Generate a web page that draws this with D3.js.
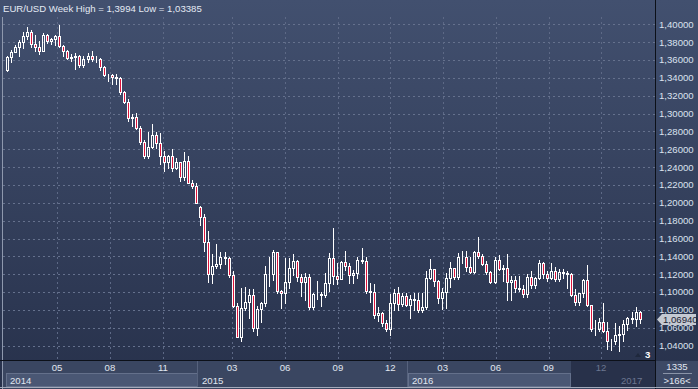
<!DOCTYPE html>
<html>
<head>
<meta charset="utf-8">
<script src="https://cdn.jsdelivr.net/npm/d3@7"></script>
<style>
html, body { margin: 0; padding: 0; background: #2c3650; overflow: hidden; }
svg { display: block; font-family: "Liberation Sans", Arial, sans-serif; }
</style>
</head>
<body>
<div id="chart"></div>
<script>
//Data (weekly candles, week start dates)
var weeks = [
 "2014-02-03","2014-02-10","2014-02-17","2014-02-24","2014-03-03","2014-03-10","2014-03-17","2014-03-24","2014-03-31",
 "2014-04-07","2014-04-14","2014-04-21","2014-04-28","2014-05-05","2014-05-12","2014-05-19","2014-05-26","2014-06-02",
 "2014-06-09","2014-06-16","2014-06-23","2014-06-30","2014-07-07","2014-07-14","2014-07-21","2014-07-28","2014-08-04",
 "2014-08-11","2014-08-18","2014-08-25","2014-09-01","2014-09-08","2014-09-15","2014-09-22","2014-09-29","2014-10-06",
 "2014-10-13","2014-10-20","2014-10-27","2014-11-03","2014-11-10","2014-11-17","2014-11-24","2014-12-01","2014-12-08",
 "2014-12-15","2014-12-22","2014-12-29",
 "2015-01-05","2015-01-12","2015-01-19","2015-01-26","2015-02-02","2015-02-09","2015-02-16","2015-02-23","2015-03-02",
 "2015-03-09","2015-03-16","2015-03-23","2015-03-30","2015-04-06","2015-04-13","2015-04-20","2015-04-27","2015-05-04",
 "2015-05-11","2015-05-18","2015-05-25","2015-06-01","2015-06-08","2015-06-15","2015-06-22","2015-06-29","2015-07-06",
 "2015-07-13","2015-07-20","2015-07-27","2015-08-03","2015-08-10","2015-08-17","2015-08-24","2015-08-31","2015-09-07",
 "2015-09-14","2015-09-21","2015-09-28","2015-10-05","2015-10-12","2015-10-19","2015-10-26","2015-11-02","2015-11-09",
 "2015-11-16","2015-11-23","2015-11-30","2015-12-07","2015-12-14","2015-12-21","2015-12-28",
 "2016-01-04","2016-01-11","2016-01-18","2016-01-25","2016-02-01","2016-02-08","2016-02-15","2016-02-22","2016-02-29",
 "2016-03-07","2016-03-14","2016-03-21","2016-03-28","2016-04-04","2016-04-11","2016-04-18","2016-04-25","2016-05-02",
 "2016-05-09","2016-05-16","2016-05-23","2016-05-30","2016-06-06","2016-06-13","2016-06-20","2016-06-27","2016-07-04",
 "2016-07-11","2016-07-18","2016-07-25","2016-08-01","2016-08-08","2016-08-15","2016-08-22","2016-08-29","2016-09-05",
 "2016-09-12","2016-09-19","2016-09-26","2016-10-03","2016-10-10","2016-10-17","2016-10-24","2016-10-31","2016-11-07",
 "2016-11-14","2016-11-21","2016-11-28","2016-12-05","2016-12-12","2016-12-19","2016-12-26",
 "2017-01-02","2017-01-09","2017-01-16","2017-01-23","2017-01-30","2017-02-06"
];
var open = [
 1.3486,1.3635,1.3692,1.3741,1.3803,1.3873,1.3914,1.3778,1.3751,1.3705,1.3885,1.3812,1.3830,1.3873,1.3757,1.3696,
 1.3628,1.3634,1.3642,1.3541,1.3608,1.3646,1.3606,1.3606,1.3523,1.3430,1.3428,1.3411,1.3400,1.3240,1.3131,1.2951,
 1.2966,1.2834,1.2685,1.2525,1.2628,1.2760,1.2671,1.2527,1.2455,1.2526,1.2390,1.2454,1.2289,1.2465,1.2225,1.2192,
 1.1950,1.1843,1.1566,1.1204,1.1291,1.1315,1.1389,1.1380,1.1196,1.0843,1.0496,1.0822,1.0890,1.0970,1.0600,1.0810,
 1.0875,1.1200,1.1199,1.1447,1.1015,1.0986,1.1112,1.1265,1.1350,1.1165,1.1108,1.1164,1.0830,1.0980,1.0982,1.0970,
 1.1105,1.1385,1.1183,1.1150,1.1338,1.1295,1.1195,1.1210,1.1357,1.1350,1.1016,1.1005,1.0740,1.0770,1.0650,1.0590,
 1.0880,1.0990,1.0870,1.0960,
 1.0860,1.0920,1.0915,1.0795,1.0830,1.1155,1.1255,1.1130,1.0935,1.1000,1.1155,1.1270,1.1170,1.1390,1.1395,1.1285,
 1.1225,1.1450,1.1405,1.1310,1.1225,1.1115,1.1365,1.1255,1.1275,1.1115,1.1135,1.1050,1.1040,1.0975,1.1175,1.1085,
 1.1160,1.1325,1.1200,1.1155,1.1235,1.1150,1.1225,1.1215,1.1200,1.0970,1.0885,1.0985,1.1140,1.0855,1.0590,1.0590,
 1.0665,1.0560,1.0450,1.0455,
 1.0515,1.0530,1.0645,1.0705,1.0695,1.0780
];
var high = [
 1.3640,1.3716,1.3773,1.3825,1.3915,1.3967,1.3937,1.3877,1.3810,1.3905,1.3892,1.3851,1.3883,1.3993,1.3773,1.3709,
 1.3670,1.3677,1.3651,1.3646,1.3676,1.3700,1.3649,1.3619,1.3530,1.3445,1.3444,1.3444,1.3412,1.3250,1.3162,1.2994,
 1.3010,1.2860,1.2700,1.2790,1.2887,1.2793,1.2780,1.2576,1.2535,1.2600,1.2500,1.2457,1.2570,1.2529,1.2260,1.2223,
 1.1970,1.1870,1.1680,1.1423,1.1534,1.1450,1.1449,1.1390,1.1240,1.0880,1.1043,1.1052,1.1032,1.1040,1.0850,1.0890,
 1.1290,1.1390,1.1467,1.1450,1.1020,1.1380,1.1380,1.1430,1.1360,1.1200,1.1215,1.1200,1.0990,1.1128,1.1000,1.1215,
 1.1440,1.1714,1.1330,1.1350,1.1460,1.1330,1.1245,1.1390,1.1495,1.1390,1.1100,1.1095,1.0830,1.0775,1.0690,1.0980,
 1.1040,1.1060,1.0990,1.0990,
 1.0970,1.0990,1.0990,1.0985,1.1240,1.1376,1.1260,1.1140,1.1050,1.1215,1.1340,1.1275,1.1440,1.1465,1.1465,1.1395,
 1.1460,1.1616,1.1430,1.1350,1.1240,1.1395,1.1415,1.1300,1.1427,1.1185,1.1185,1.1185,1.1080,1.1200,1.1235,1.1170,
 1.1365,1.1335,1.1240,1.1325,1.1280,1.1255,1.1260,1.1240,1.1210,1.1040,1.0990,1.1145,1.1300,1.0860,1.0690,1.0710,
 1.0875,1.0670,1.0480,1.0655,
 1.0620,1.0685,1.0720,1.0775,1.0830,1.0790
];
var low = [
 1.3477,1.3580,1.3686,1.3643,1.3733,1.3830,1.3750,1.3705,1.3672,1.3700,1.3790,1.3780,1.3772,1.3750,1.3648,1.3614,
 1.3586,1.3503,1.3523,1.3525,1.3575,1.3593,1.3573,1.3490,1.3420,1.3366,1.3333,1.3329,1.3221,1.3117,1.2920,1.2860,
 1.2830,1.2660,1.2500,1.2500,1.2613,1.2610,1.2440,1.2358,1.2395,1.2358,1.2380,1.2247,1.2260,1.2220,1.2164,1.2000,
 1.1754,1.1460,1.1114,1.1098,1.1270,1.1270,1.1315,1.1174,1.0838,1.0494,1.0458,1.0800,1.0712,1.0570,1.0520,1.0660,
 1.0850,1.1065,1.1135,1.0990,1.0820,1.0880,1.1050,1.1190,1.1130,1.0955,1.0915,1.0810,1.0808,1.0925,1.0850,1.0950,
 1.1017,1.1090,1.1087,1.1145,1.1250,1.1105,1.1100,1.1160,1.1330,1.0990,1.0895,1.0710,1.0675,1.0620,1.0560,1.0524,
 1.0800,1.0800,1.0850,1.0850,
 1.0710,1.0805,1.0775,1.0780,1.0810,1.1150,1.1070,1.0880,1.0810,1.0825,1.1060,1.1145,1.1145,1.1330,1.1235,1.1215,
 1.1215,1.1385,1.1305,1.1200,1.1100,1.1100,1.1250,1.1130,1.0912,1.0910,1.1000,1.1015,1.0950,1.0950,1.1045,1.1045,
 1.1150,1.1160,1.1120,1.1150,1.1120,1.1125,1.1160,1.1045,1.0960,1.0860,1.0860,1.0940,1.0850,1.0570,1.0520,1.0560,
 1.0550,1.0365,1.0350,1.0420,
 1.0340,1.0450,1.0580,1.0655,1.0620,1.0650
];
var close = [
 1.3635,1.3692,1.3741,1.3803,1.3873,1.3914,1.3778,1.3751,1.3705,1.3885,1.3812,1.3830,1.3873,1.3757,1.3696,1.3628,
 1.3634,1.3642,1.3541,1.3608,1.3646,1.3606,1.3606,1.3523,1.3430,1.3428,1.3411,1.3400,1.3240,1.3131,1.2951,1.2966,
 1.2834,1.2685,1.2525,1.2628,1.2760,1.2671,1.2527,1.2455,1.2526,1.2390,1.2454,1.2289,1.2465,1.2225,1.2192,1.2003,
 1.1843,1.1566,1.1204,1.1291,1.1315,1.1389,1.1380,1.1196,1.0843,1.0496,1.0822,1.0890,1.0970,1.0600,1.0810,1.0875,
 1.1200,1.1199,1.1447,1.1015,1.0986,1.1112,1.1265,1.1350,1.1165,1.1108,1.1164,1.0830,1.0980,1.0982,1.0970,1.1105,
 1.1385,1.1183,1.1150,1.1338,1.1295,1.1195,1.1210,1.1357,1.1350,1.1016,1.1005,1.0740,1.0770,1.0650,1.0590,1.0880,
 1.0990,1.0870,1.0960,1.0860,
 1.0920,1.0915,1.0795,1.0830,1.1155,1.1255,1.1130,1.0935,1.1000,1.1155,1.1270,1.1170,1.1390,1.1395,1.1285,1.1225,
 1.1450,1.1405,1.1310,1.1225,1.1115,1.1365,1.1255,1.1275,1.1115,1.1135,1.1050,1.1040,1.0975,1.1175,1.1085,1.1160,
 1.1325,1.1200,1.1155,1.1235,1.1150,1.1225,1.1215,1.1200,1.0970,1.0885,1.0985,1.1140,1.0855,1.0590,1.0590,1.0665,
 1.0560,1.0450,1.0455,1.0515,
 1.0530,1.0645,1.0705,1.0695,1.0780,1.0694
];

//Axis info
var priceTicks = [1.04,1.06,1.08,1.10,1.12,1.14,1.16,1.18,1.20,1.22,1.24,1.26,1.28,1.30,1.32,1.34,1.36,1.38,1.40];
var monthTicks = ["2014-05-01","2014-08-01","2014-11-01","2015-03-01","2015-06-01","2015-09-01","2015-12-01",
                  "2016-03-01","2016-06-01","2016-09-01","2016-12-01"];
var yearBands = [
    { label: "2014", start: "2014-02-01", end: "2015-01-01", boxed: true },
    { label: "2015", start: "2015-01-01", end: "2016-01-01", boxed: false },
    { label: "2016", start: "2016-01-01", end: "2016-10-10", boxed: true }
];
var shadeStart = "2016-10-10";
var title = "EUR/USD Week High = 1,3994 Low = 1,03385";
var lastPrice = 1.0694;
var footerTop = "1335", footerBottom = ">166<", cornerCount = "3";

//Setup
var W = 698, H = 389;
var plot = { left: 3, right: 655, top: 17, bottom: 360 };
var parseDate = d3.utcParse("%Y-%m-%d");
var commaFormat = function (d) { return d3.format(".5f")(d).replace(".", ","); };
var up_color = "#ffffff", down_color = "#dc143c";

var candles = weeks.map(function (w, i) {
    return { date: parseDate(w), open: open[i], high: high[i], low: low[i], close: close[i] };
});

var x = d3.scaleUtc()
    .domain([parseDate("2014-05-01"), parseDate("2016-12-01")])
    .range([57, 601]);
var y = d3.scaleLinear()
    .domain([1.04, 1.40])
    .range([345.7, 24.3]);

var svg = d3.select("#chart").append("svg")
    .attr("width", W)
    .attr("height", H);

var defs = svg.append("defs");
var grad = defs.append("linearGradient")
    .attr("id", "bg")
    .attr("gradientUnits", "userSpaceOnUse")
    .attr("x1", 0).attr("y1", 0).attr("x2", 0).attr("y2", H);
grad.append("stop").attr("offset", 0).attr("stop-color", "#42506f");
grad.append("stop").attr("offset", 1).attr("stop-color", "#27314b");

defs.append("clipPath").attr("id", "plotClip")
    .append("rect")
    .attr("x", plot.left).attr("y", plot.top)
    .attr("width", plot.right - plot.left).attr("height", plot.bottom - plot.top);

svg.append("rect").attr("width", W).attr("height", H).attr("fill", "url(#bg)");

//Title
svg.append("text")
    .attr("x", 3).attr("y", 12)
    .attr("font-size", "9.6px")
    .attr("fill", "#e4eaf4")
    .text(title);

//Grid
var grid = svg.append("g").attr("clip-path", "url(#plotClip)");
grid.selectAll("line.h").data(priceTicks).enter().append("line")
    .attr("x1", plot.left).attr("x2", plot.right)
    .attr("y1", function (d) { return Math.round(y(d)) + 0.5; })
    .attr("y2", function (d) { return Math.round(y(d)) + 0.5; })
    .attr("stroke", "#65718d").attr("stroke-dasharray", "2,3");
grid.selectAll("line.v").data(monthTicks).enter().append("line")
    .attr("x1", function (d) { return Math.round(x(parseDate(d))) + 0.5; })
    .attr("x2", function (d) { return Math.round(x(parseDate(d))) + 0.5; })
    .attr("y1", plot.top).attr("y2", plot.bottom)
    .attr("stroke", "#5d6986").attr("stroke-dasharray", "2,3");

//Candles
var candleG = svg.append("g").attr("clip-path", "url(#plotClip)");
var cg = candleG.selectAll("g").data(candles).enter().append("g");

cg.append("path")
    .attr("d", function (d) {
        var cx = Math.round(x(d.date)) + 0.5;
        var top = Math.round(y(Math.max(d.open, d.close)));
        var bot = Math.round(y(Math.min(d.open, d.close)));
        return "M" + cx + "," + Math.round(y(d.high)) + "V" + top +
               "M" + cx + "," + bot + "V" + (Math.round(y(d.low)) + 1);
    })
    .attr("stroke", "#ffffff")
    .attr("fill", "none");

cg.append("rect")
    .attr("x", function (d) { return Math.round(x(d.date)) - 0.5; })
    .attr("y", function (d) { return Math.round(y(Math.max(d.open, d.close))) + 0.5; })
    .attr("width", 2)
    .attr("height", function (d) {
        return Math.max(0, Math.round(y(Math.min(d.open, d.close))) - Math.round(y(Math.max(d.open, d.close))));
    })
    .attr("fill", function (d) { return d.close < d.open ? down_color : "none"; })
    .attr("stroke", up_color);

//Plot frame
svg.append("line")
    .attr("x1", 2.5).attr("x2", 2.5).attr("y1", plot.top).attr("y2", H)
    .attr("stroke", "#8e98ad");
svg.append("line")
    .attr("x1", plot.right + 0.5).attr("x2", plot.right + 0.5).attr("y1", 0).attr("y2", H)
    .attr("stroke", "#0c1018");

//Right price axis
var yAxis = svg.append("g");
yAxis.selectAll("text").data(priceTicks).enter().append("text")
    .attr("x", 659)
    .attr("y", function (d) { return y(d); })
    .attr("dy", "0.35em")
    .attr("font-size", "9.6px")
    .attr("fill", "#dbe2ee")
    .text(commaFormat);

//Last price tag
var ty = Math.round(y(lastPrice));
yAxis.append("path")
    .attr("d", "M657," + (ty + 0.5) + "L662," + (ty - 5) + "H696V" + (ty + 6) + "H662Z")
    .attr("fill", "#c4c9d2");
yAxis.append("text")
    .attr("x", 663).attr("y", ty + 0.5).attr("dy", "0.35em")
    .attr("font-size", "9.6px")
    .attr("fill", "#1a2132")
    .text(commaFormat(lastPrice).replace(/0$/, "0"));

//Corner marker
svg.append("path")
    .attr("d", "M635,357L638,353L641,357Z")
    .attr("fill", "#1f283c");
svg.append("text")
    .attr("x", 645).attr("y", 358)
    .attr("font-size", "9.6px").attr("font-weight", "bold")
    .attr("fill", "#ffffff")
    .text(cornerCount);

//Time axis
var axisG = svg.append("g");
axisG.append("rect")
    .attr("x", 3).attr("y", plot.bottom).attr("width", plot.right - 3).attr("height", H - plot.bottom)
    .attr("fill", "#3a4661");
axisG.append("line")
    .attr("x1", 0).attr("x2", plot.right + 1).attr("y1", plot.bottom + 0.5).attr("y2", plot.bottom + 0.5)
    .attr("stroke", "#0c1018");

yearBands.forEach(function (b, i) {
    var x0 = i === 0 ? 6 : Math.round(x(parseDate(b.start)));
    var x1 = Math.round(x(parseDate(b.end)));
    if (b.boxed) {
        axisG.append("rect")
            .attr("x", x0 + 0.5).attr("y", 373.5)
            .attr("width", x1 - x0 - 1).attr("height", 13)
            .attr("fill", "#4a5774").attr("stroke", "#64708b");
    }
    if (i > 0) {
        axisG.append("line")
            .attr("x1", x0 - 0.5).attr("x2", x0 - 0.5).attr("y1", 361).attr("y2", 387)
            .attr("stroke", "#56627d");
    }
    axisG.append("text")
        .attr("x", x0 + 4).attr("y", 384)
        .attr("font-size", "9.6px")
        .attr("fill", "#e0e6f0")
        .text(b.label);
});

var xs = Math.round(x(parseDate(shadeStart)));
axisG.append("rect")
    .attr("x", xs).attr("y", 361).attr("width", plot.right - xs).attr("height", 26)
    .attr("fill", "#28314a");
axisG.append("text")
    .attr("x", xs + 50).attr("y", 384)
    .attr("font-size", "9.6px")
    .attr("fill", "#6c7690")
    .text("2017");

axisG.selectAll("text.m").data(monthTicks).enter().append("text")
    .attr("x", function (d) { return x(parseDate(d)); })
    .attr("y", 371)
    .attr("text-anchor", "middle")
    .attr("font-size", "9.6px")
    .attr("fill", function (d) { return parseDate(d) >= parseDate(shadeStart) ? "#6c7690" : "#e0e6f0"; })
    .text(function (d) { return d3.utcFormat("%m")(parseDate(d)); });

//Footer box on the right
axisG.append("rect")
    .attr("x", plot.right + 1).attr("y", plot.bottom + 1).attr("width", W - plot.right - 1).attr("height", 27)
    .attr("fill", "#3d4965");
axisG.append("text")
    .attr("x", 677).attr("y", 370).attr("text-anchor", "middle")
    .attr("font-size", "9.6px").attr("fill", "#e0e6f0")
    .text(footerTop);
axisG.append("line")
    .attr("x1", 663).attr("x2", 692).attr("y1", 373.5).attr("y2", 373.5)
    .attr("stroke", "#8a94a8");
axisG.append("text")
    .attr("x", 677).attr("y", 384).attr("text-anchor", "middle")
    .attr("font-size", "9.6px").attr("fill", "#e0e6f0")
    .text(footerBottom);

//Bottom frame
axisG.append("line")
    .attr("x1", 0).attr("x2", W).attr("y1", 387.5).attr("y2", 387.5)
    .attr("stroke", "#a3abbb");
</script>
</body>
</html>
